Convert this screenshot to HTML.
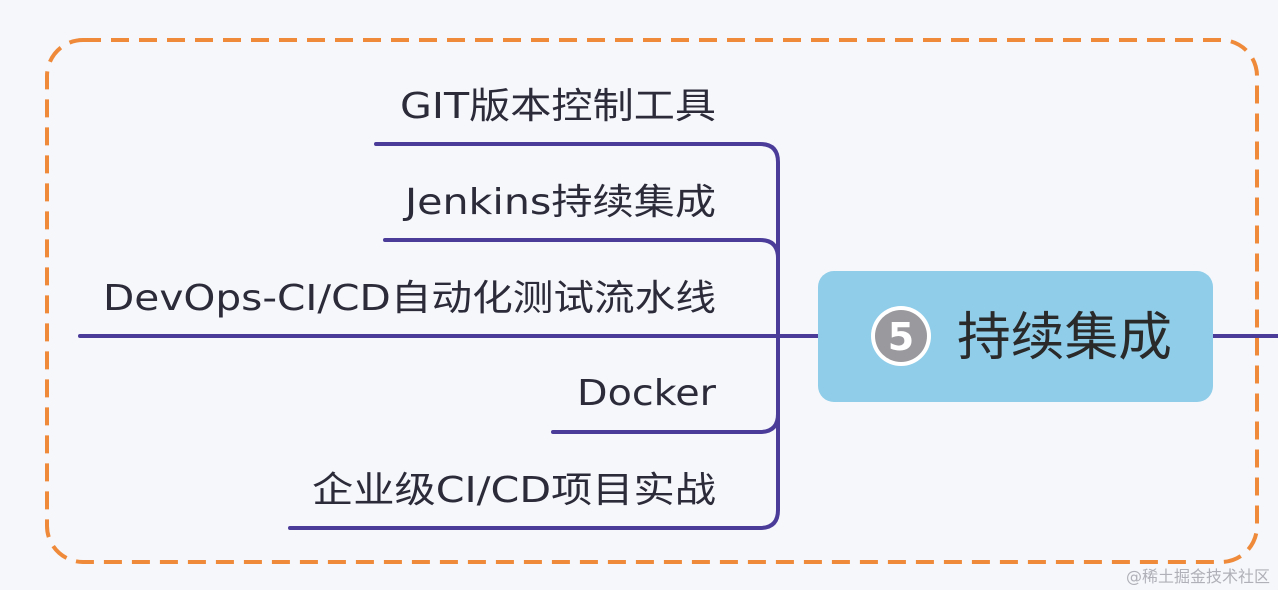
<!DOCTYPE html>
<html><head><meta charset="utf-8">
<style>
html,body{margin:0;padding:0;background:#f5f7fb;}
svg{display:block;}
text{font-family:"DejaVu Sans","Noto Sans CJK SC",sans-serif;}
</style></head>
<body>
<svg width="1278" height="590" viewBox="0 0 1278 590" xmlns="http://www.w3.org/2000/svg">
<rect x="0" y="0" width="1278" height="590" fill="#f5f7fb"/>
<rect x="47" y="40" width="1210" height="522" rx="36" fill="none" stroke="#ef8a3a" stroke-width="4" stroke-dasharray="18,10"/>
<g stroke="#4b3c9a" stroke-width="4" fill="none" stroke-linecap="round">
<path d="M376 144 H760 Q778 144 778 162 V510 Q778 528 760 528 H290"/>
<path d="M385 240 H760 Q778 240 778 258"/>
<path d="M553 432 H760 Q778 432 778 414"/>
<path d="M80 336 H818"/>
<path d="M1212 336 H1278"/>
</g>
<rect x="818" y="271" width="395" height="131" rx="16" fill="#8fcde9"/>
<circle cx="901" cy="336" r="30" fill="#fff"/>
<circle cx="901" cy="336" r="26" fill="#9a9a9e"/>
<text x="901" y="350" font-size="38" font-weight="bold" fill="#fff" text-anchor="middle">5</text>
<text x="957" y="355" font-size="52" fill="#2a2a2a" textLength="215" lengthAdjust="spacingAndGlyphs">持续集成</text>
<g font-size="36" fill="#2b2b3a">
<text x="400" y="118" textLength="316" lengthAdjust="spacingAndGlyphs">GIT版本控制工具</text>
<text x="405" y="214" textLength="311" lengthAdjust="spacingAndGlyphs">Jenkins持续集成</text>
<text x="103" y="310" textLength="613" lengthAdjust="spacingAndGlyphs">DevOps-CI/CD自动化测试流水线</text>
<text x="577" y="405" textLength="139" lengthAdjust="spacingAndGlyphs">Docker</text>
<text x="312" y="502" textLength="404" lengthAdjust="spacingAndGlyphs">企业级CI/CD项目实战</text>
</g>
<text x="1270" y="582" font-size="16" fill="#b0b0b8" text-anchor="end">@稀土掘金技术社区</text>
</svg>
</body></html>
